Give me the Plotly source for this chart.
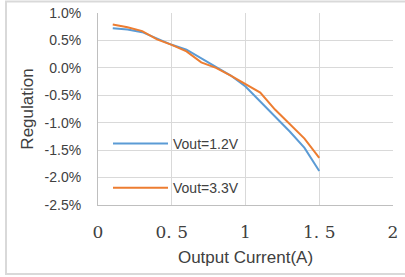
import plotly.graph_objects as go

current = [0.1, 0.2, 0.3, 0.4, 0.5, 0.6, 0.7, 0.8, 0.9, 1.0, 1.1, 1.2, 1.3, 1.4, 1.5]
reg_12 = [0.72, 0.70, 0.65, 0.53, 0.42, 0.33, 0.17, 0.02, -0.14, -0.34, -0.61, -0.88, -1.16, -1.46, -1.88]
reg_33 = [0.79, 0.74, 0.67, 0.52, 0.42, 0.30, 0.10, 0.00, -0.14, -0.30, -0.45, -0.76, -1.03, -1.29, -1.64]

y_ticks = [1.0, 0.5, 0.0, -0.5, -1.0, -1.5, -2.0, -2.5]
y_ticktext = ["1.0%", "0.5%", "0.0%", "-0.5%", "-1.0%", "-1.5%", "-2.0%", "-2.5%"]
x_ticks = [0, 0.5, 1, 1.5, 2]
x_ticktext = ["0", "0. 5", "1", "1. 5", "2"]

W, H = 405, 277
L, R, T, B = 98, 393, 13, 205

fig = go.Figure()
fig.add_trace(go.Scatter(x=current, y=reg_12, mode="lines", name="Vout=1.2V",
                         line=dict(color="#5B9BD5", width=2), legendgroup="a"))
fig.add_trace(go.Scatter(x=current, y=reg_33, mode="lines", name="Vout=3.3V",
                         line=dict(color="#ED7D31", width=2), legendgroup="b"))

def px(x):
    return (x - L) / (R - L)

def py(y):
    return (B - y) / (B - T)

fig.update_layout(
    width=W, height=H,
    margin=dict(l=L, r=W - R, t=T, b=H - B),
    paper_bgcolor="white", plot_bgcolor="white",
    font=dict(family="Liberation Sans, Arial, sans-serif", color="#404040"),
    showlegend=True,
    legend=dict(x=px(108), y=py(128), xanchor="left", yanchor="top",
                bgcolor="rgba(0,0,0,0)", tracegroupgap=23, itemwidth=55,
                font=dict(size=14, color="#404040")),
    xaxis=dict(range=[0, 2], tickvals=x_ticks, ticktext=x_ticktext,
               showgrid=True, gridcolor="#d9d9d9", gridwidth=1,
               showline=True, linecolor="#bfbfbf", linewidth=1,
               zeroline=False, ticks="", ticklabelstandoff=12, automargin=False,
               tickfont=dict(family="DejaVu Serif, serif", size=17, color="#404040"),
               title=dict(text="Output Current(A)", font=dict(size=17, color="#404040"), standoff=9)),
    yaxis=dict(range=[-2.5, 1.0], tickvals=y_ticks, ticktext=y_ticktext,
               showgrid=True, gridcolor="#d9d9d9", gridwidth=1,
               showline=True, linecolor="#bfbfbf", linewidth=1,
               zeroline=False, ticks="", ticklabelstandoff=13, automargin=False,
               tickfont=dict(size=14, color="#404040"),
               title=dict(text="Regulation", font=dict(size=17, color="#404040"), standoff=6)),
    shapes=[dict(type="rect", xref="paper", yref="paper",
                 x0=px(6), x1=px(412), y0=py(274), y1=py(1.5),
                 line=dict(color="#d9d9d9", width=2), layer="below")],
)

fig.write_html("out.html", config={"displayModeBar": False},
               post_script="document.body.style.margin='0';")
